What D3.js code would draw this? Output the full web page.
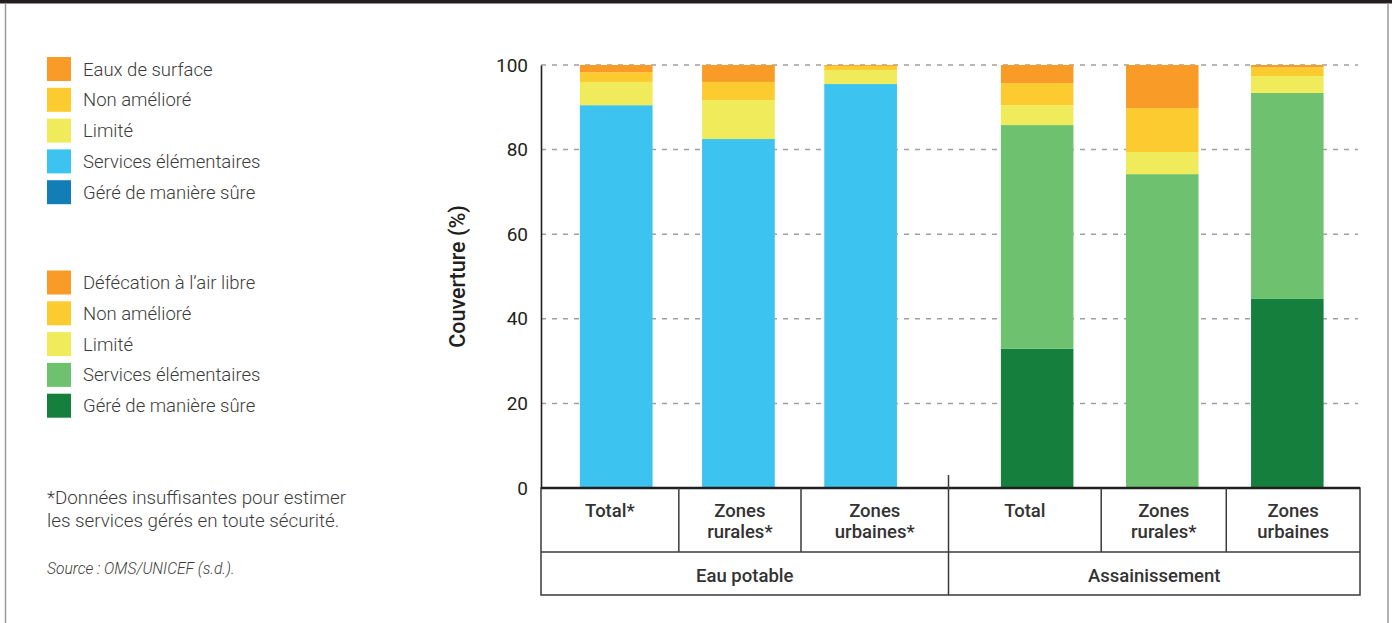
<!DOCTYPE html>
<html><head><meta charset="utf-8">
<script src="https://cdn.jsdelivr.net/npm/d3@7/dist/d3.min.js"></script>
<style>
html,body{margin:0;padding:0;background:#fff;}
svg{display:block;font-family:Roboto,"Noto Sans",sans-serif;}
</style></head>
<body><svg id="c" width="1392" height="623"></svg>
<script>
// ---- data ----
const groups = ["Eau potable", "Assainissement"];
const waterCats = ["Total*", "Zones rurales*", "Zones urbaines*"];
const sanCats = ["Total", "Zones rurales*", "Zones urbaines"];
const waterLabels = ["Eaux de surface", "Non amélioré", "Limité", "Services élémentaires", "Géré de manière sûre"];
const sanLabels = ["Défécation à l’air libre", "Non amélioré", "Limité", "Services élémentaires", "Géré de manière sûre"];
// bottom -> top: safely managed, basic, limited, unimproved, surface/open
const waterSafe = [0, 0, 0];
const waterBasic = [90.5, 82.5, 95.5];
const waterLimited = [5.5, 9.2, 3.3];
const waterUnimproved = [2.3, 4.3, 1.0];
const waterSurface = [1.7, 4.0, 0.2];
const sanSafe = [32.9, 0, 44.7];
const sanBasic = [52.9, 74.2, 48.7];
const sanLimited = [4.7, 5.2, 4.0];
const sanUnimproved = [5.2, 10.4, 2.1];
const sanOpen = [4.3, 10.2, 0.5];
const yTicks = [0, 20, 40, 60, 80, 100];
const footnote = ["*Données insuffisantes pour estimer", "les services gérés en toute sécurité."];
const sourceText = "Source : OMS/UNICEF (s.d.).";

const waterColors = ["#F89B27", "#FCCB30", "#F0EB5A", "#3DC3F0", "#137DB6"];
const sanColors = ["#F89B27", "#FCCB30", "#F0EB5A", "#6EC26F", "#15803D"];

const svg = d3.select("#c");

// frame
svg.append("rect").attr("x", 0).attr("y", 0).attr("width", 1392).attr("height", 3.5).attr("fill", "#231f20");
svg.append("line").attr("x1", 5.5).attr("x2", 5.5).attr("y1", 3).attr("y2", 623).attr("stroke", "#9a9a9a").attr("stroke-width", 1.5);
svg.append("line").attr("x1", 1388).attr("x2", 1388).attr("y1", 3).attr("y2", 623).attr("stroke", "#9a9a9a").attr("stroke-width", 1.5);

const pLeft = 541, pRight = 1360, pTop = 65, pBottom = 488;
const y = d3.scaleLinear().domain([0, 100]).range([pBottom, pTop]);
const gx = d3.scaleBand().domain(groups).range([pLeft, pRight - 4]).align(0);
const innerW = d3.scaleBand().domain(waterCats).range([0, 407.5]).paddingInner(0.405).paddingOuter(0.37).align(0.43);
const innerS = d3.scaleBand().domain(sanCats).range([0, 411.5]).paddingInner(0.42).paddingOuter(0.355).align(0.59);

// gridlines
svg.append("g").selectAll("line").data(yTicks.filter(d => d > 0)).join("line")
  .attr("x1", pLeft).attr("x2", 1358).attr("y1", d => y(d)).attr("y2", d => y(d))
  .attr("stroke", "#a0a0a0").attr("stroke-width", 1.5).attr("stroke-dasharray", "5,6");

// y axis
const yAxis = svg.append("g").attr("transform", `translate(${pLeft},0)`)
  .call(d3.axisLeft(y).tickValues(yTicks).tickSize(0).tickPadding(13));
yAxis.select(".domain").attr("stroke", "#231f20").attr("stroke-width", 1.6);
yAxis.selectAll("text").attr("font-size", 19).attr("fill", "#231f20").attr("font-family", "Roboto");

svg.append("text").attr("transform", `translate(465,${(pTop + pBottom) / 2}) rotate(-90)`)
  .attr("text-anchor", "middle").attr("font-size", 21.5).attr("font-weight", 500).attr("fill", "#231f20")
  .text("Couverture (%)");

const mid = pLeft + 407.5;
const groupStart = g => g === groups[0] ? pLeft : mid;

// bars
function drawGroup(group, cats, inner, series, colors) {
  const keys = ["safe", "basic", "limited", "unimproved", "surface"];
  const rows = cats.map((c, i) => ({cat: c, safe: series[0][i], basic: series[1][i], limited: series[2][i], unimproved: series[3][i], surface: series[4][i]}));
  const stack = d3.stack().keys(keys)(rows);
  const colorOf = k => colors[4 - keys.indexOf(k)];
  const g = svg.append("g").attr("transform", `translate(${groupStart(group)},0)`);
  g.selectAll("g").data(stack).join("g").attr("fill", s => colorOf(s.key))
    .selectAll("rect").data(s => s).join("rect")
    .attr("x", d => inner(d.data.cat)).attr("width", inner.bandwidth())
    .attr("y", d => y(d[1])).attr("height", d => y(d[0]) - y(d[1]));
}
drawGroup("Eau potable", waterCats, innerW, [waterSafe, waterBasic, waterLimited, waterUnimproved, waterSurface], waterColors);
drawGroup("Assainissement", sanCats, innerS, [sanSafe, sanBasic, sanLimited, sanUnimproved, sanOpen], sanColors);

// table
const row1 = 552, row2 = 595;
const tc = "#333";
const t = svg.append("g");
t.append("rect").attr("x", pLeft).attr("y", pBottom).attr("width", pRight - pLeft).attr("height", row2 - pBottom)
  .attr("fill", "none").attr("stroke", "#3a3a3a").attr("stroke-width", 1.5);
t.append("line").attr("x1", pLeft).attr("x2", pRight).attr("y1", row1).attr("y2", row1).attr("stroke", "#3a3a3a").attr("stroke-width", 1.5);
t.append("line").attr("x1", pLeft).attr("x2", pRight).attr("y1", pBottom).attr("y2", pBottom).attr("stroke", "#231f20").attr("stroke-width", 2.5);
t.append("line").attr("x1", mid).attr("x2", mid).attr("y1", pBottom - 13).attr("y2", row2).attr("stroke", "#3a3a3a").attr("stroke-width", 1.5);

function cells(group, cats, inner) {
  const x0 = groupStart(group);
  const edges = [x0];
  for (let i = 0; i < cats.length - 1; i++) {
    edges.push(x0 + (inner(cats[i]) + inner.bandwidth() + inner(cats[i + 1])) / 2 + 1.5);
  }
  edges.push(group === groups[0] ? mid : pRight);
  for (let i = 1; i < edges.length - 1; i++) {
    t.append("line").attr("x1", edges[i]).attr("x2", edges[i]).attr("y1", pBottom).attr("y2", row1).attr("stroke", "#3a3a3a").attr("stroke-width", 1.5);
  }
  cats.forEach((c, i) => {
    const cx = (edges[i] + edges[i + 1]) / 2;
    const words = c.split(" ");
    const txt = t.append("text").attr("text-anchor", "middle").attr("font-size", 18.5).attr("font-weight", 500).attr("fill", tc);
    words.forEach((w, j) => txt.append("tspan").attr("x", cx).attr("y", 516.5 + j * 21.5).text(w));
  });
  t.append("text").attr("x", (edges[0] + edges[edges.length - 1]) / 2).attr("y", 581.5)
    .attr("text-anchor", "middle").attr("font-size", 18.5).attr("font-weight", 500).attr("fill", tc).text(group);
}
cells("Eau potable", waterCats, innerW);
cells("Assainissement", sanCats, innerS);

// legends
function legend(labels, colors, y0) {
  const g = svg.append("g");
  labels.forEach((l, i) => {
    const yy = y0 + i * 30.8;
    g.append("rect").attr("x", 47).attr("y", yy).attr("width", 24).attr("height", 24).attr("fill", colors[i]);
    g.append("text").attr("x", 83).attr("y", yy + 18.5).attr("font-size", 18.5).attr("font-weight", 300)
      .attr("fill", "#3c3c3c").text(l);
  });
}
legend(waterLabels, waterColors, 57);
legend(sanLabels, sanColors, 270.5);

// footnote
footnote.forEach((l, i) => {
  svg.append("text").attr("x", 47).attr("y", 504 + i * 23).attr("font-size", 18.8).attr("font-weight", 300)
    .attr("fill", "#3c3c3c").text(l);
});
svg.append("text").attr("x", 47).attr("y", 573.5).attr("font-size", 15.6).attr("font-style", "italic").attr("font-weight", 300)
  .attr("fill", "#3c3c3c").text(sourceText);
</script>
</body></html>
